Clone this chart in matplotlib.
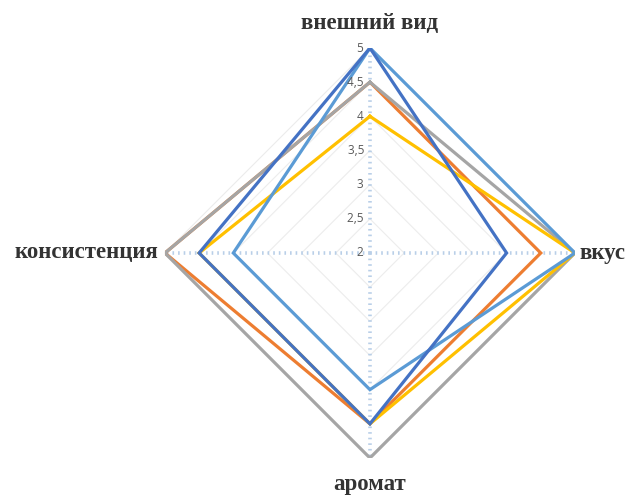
import numpy as np
import matplotlib
matplotlib.use("Agg")
import matplotlib.pyplot as plt

categories = ["внешний вид", "вкус", "аромат", "консистенция"]
levels = [2, 2.5, 3, 3.5, 4, 4.5, 5]
level_labels = ["2", "2,5", "3", "3,5", "4", "4,5", "5"]

# series listed in drawing order (later ones on top)
orange = [4.5, 4.5, 4.5, 5]
gray = [4.5, 5, 5, 5]
yellow = [4, 5, 4.5, 4.5]
light_blue = [5, 5, 4, 4]
dark_blue = [5, 4, 4.5, 4.5]
series = [orange, gray, yellow, light_blue, dark_blue]
colors = ["#ED7D31", "#A5A5A5", "#FFC000", "#5B9BD5", "#4472C4"]

fig = plt.figure(figsize=(6.32, 5.0), dpi=100)
ax = fig.add_axes([0.261, 0.084, 0.6487, 0.82], projection="polar")
ax.set_theta_offset(np.pi / 2)
ax.set_theta_direction(-1)
ax.set_ylim(2, 5)
ax.grid(False)
ax.spines["polar"].set_visible(False)
ax.set_xticks([])
ax.set_yticks([])

theta = np.linspace(0, 2 * np.pi, len(categories), endpoint=False)
theta_c = np.append(theta, theta[0])

# diamond grid rings
for lv in levels[1:]:
    ax.plot(theta_c, [lv] * len(theta_c), color="#ececec", lw=0.8, zorder=1)

# dotted spokes
for t in theta:
    ax.plot([t, t], [2, 5], color="#b9cfe8", lw=2.6, dashes=(0.45, 1.1),
            zorder=1.5)

for vals, c in zip(series, colors):
    ax.plot(theta_c, vals + vals[:1], color=c, lw=2.3, zorder=3,
            solid_joinstyle="miter")

# value labels along the top spoke
for lv, lab in zip(levels, level_labels):
    ax.text(0, lv, lab + "  ", ha="right", va="center", fontsize=8.5,
            color="#595959", family="Open Sans", zorder=4)

label_pos = [("center", "bottom", 5.2), ("left", "center", 5.06),
             ("center", "top", 5.23), ("right", "center", 5.1)]
for t, name, (ha, va, r) in zip(theta, categories, label_pos):
    ax.text(t, r, name, ha=ha, va=va, fontsize=16.5, fontweight="bold",
            family="Liberation Serif", color="#333333")

fig.savefig("out.png", dpi=100)
